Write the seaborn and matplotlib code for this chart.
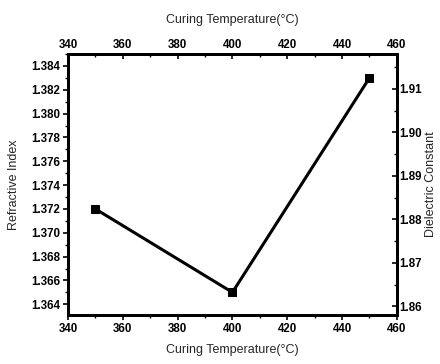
import matplotlib
matplotlib.use("Agg")
import matplotlib.pyplot as plt
import matplotlib.ticker as mticker
import seaborn as sns
import pandas as pd

# Curing temperature vs. refractive index
temperature = [350, 400, 450]
refractive_index = [1.372, 1.365, 1.383]

x_limits = (340, 460)
ri_limits = (1.3631, 1.3850)
dk_limits = (1.858, 1.918)

sns.set_theme(style="white")
plt.rcParams["font.family"] = ["Liberation Sans", "DejaVu Sans"]
plt.rcParams["font.weight"] = "bold"

df = pd.DataFrame({"Curing Temperature": temperature, "Refractive Index": refractive_index})

fig = plt.figure(figsize=(4.4, 3.64), dpi=100)
ax = fig.add_axes([0.1545, 0.1346, 0.7475, 0.717])

sns.lineplot(data=df, x="Curing Temperature", y="Refractive Index", ax=ax,
             color="black", linewidth=2.2, marker="s", markersize=6,
             markeredgecolor="black", markerfacecolor="black")

label_size = 9
tick_size = 8.3

ax.set_xlim(*x_limits)
ax.set_ylim(*ri_limits)
ax.xaxis.set_major_locator(mticker.MultipleLocator(20))
ax.xaxis.set_minor_locator(mticker.MultipleLocator(10))
ax.yaxis.set_major_locator(mticker.MultipleLocator(0.002))
ax.yaxis.set_minor_locator(mticker.MultipleLocator(0.001))
ax.yaxis.set_major_formatter(mticker.FormatStrFormatter("%.3f"))
ax.set_xlabel("Curing Temperature(°C)", fontsize=label_size, labelpad=7)
ax.set_ylabel("Refractive Index", fontsize=label_size, labelpad=8)

for s in ax.spines.values():
    s.set_linewidth(2.0)
    s.set_color("black")

tick_kw = dict(colors="black", labelsize=tick_size, width=1.2, pad=2)
ax.tick_params(axis="both", which="major", length=3.5, direction="out", **tick_kw)
ax.tick_params(axis="both", which="minor", length=2, direction="out", width=1.0, colors="black")
ax.tick_params(axis="both", which="both", bottom=True, left=True)

# Top axis repeats the temperature scale
ax_top = ax.twiny()
ax_top.set_xlim(*x_limits)
ax_top.xaxis.set_major_locator(mticker.MultipleLocator(20))
ax_top.xaxis.set_minor_locator(mticker.MultipleLocator(10))
ax_top.set_xlabel("Curing Temperature(°C)", fontsize=label_size, labelpad=12)
ax_top.tick_params(axis="x", which="major", length=3.5, direction="in", **tick_kw)
ax_top.tick_params(axis="x", which="minor", length=2, direction="in", width=1.0, colors="black")
ax_top.tick_params(axis="x", which="both", top=True)

# Right axis for the dielectric constant scale
ax_right = ax.twinx()
ax_right.set_ylim(*dk_limits)
ax_right.yaxis.set_major_locator(mticker.MultipleLocator(0.01))
ax_right.yaxis.set_minor_locator(mticker.MultipleLocator(0.005))
ax_right.yaxis.set_major_formatter(mticker.FormatStrFormatter("%.2f"))
ax_right.set_ylabel("Dielectric Constant", fontsize=label_size, labelpad=2)
ax_right.tick_params(axis="y", which="major", length=3.5, direction="in", **tick_kw)
ax_right.tick_params(axis="y", which="minor", length=2, direction="in", width=1.0, colors="black")
ax_right.tick_params(axis="y", which="both", right=True)

for a in (ax_top, ax_right):
    for s in a.spines.values():
        s.set_linewidth(2.0)
        s.set_color("black")

fig.savefig("out.png", dpi=100)
